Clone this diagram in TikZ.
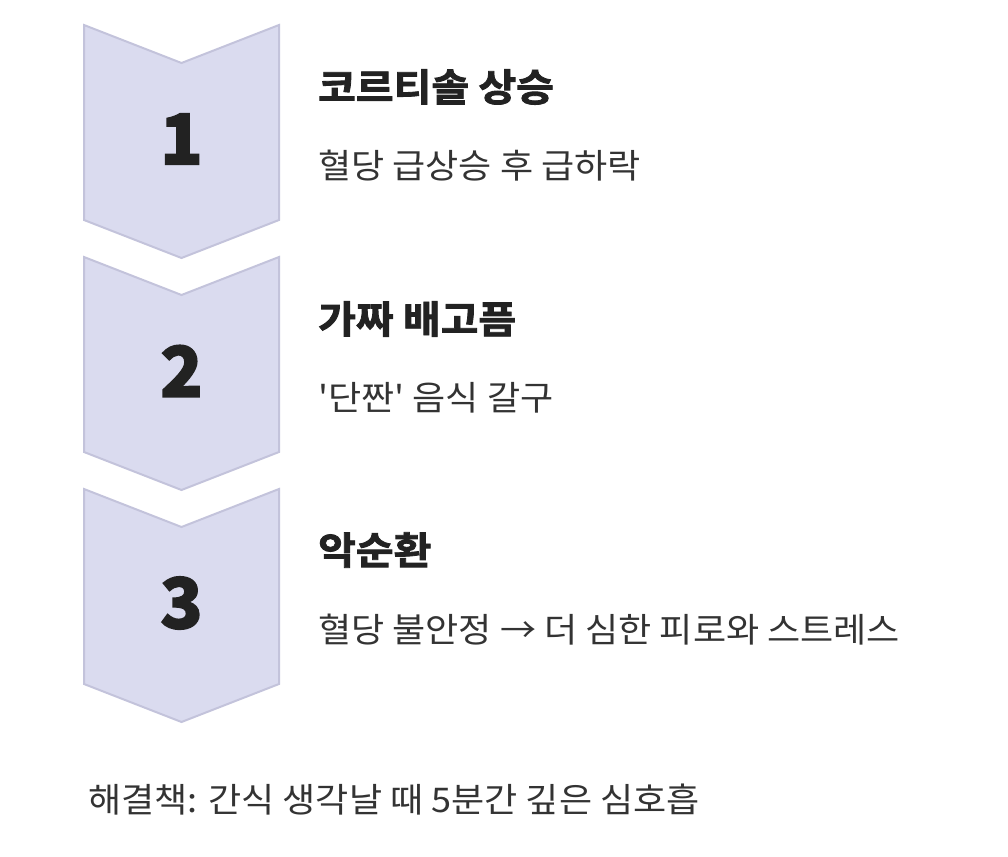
\documentclass[tikz,border=0pt]{standalone}
\usepackage{fontspec}
\setmainfont{Noto Sans CJK KR}[Ligatures=TeXOff, BoldFeatures={FakeBold=2}]
\newfontfamily\titlefont{Noto Sans CJK KR}[Ligatures=TeXOff, UprightFont=* Bold, UprightFeatures={FakeBold=2.2, FakeStretch=1.08}]
\newfontfamily\bodyfont{Noto Sans CJK KR}[Ligatures=TeXOff, FakeStretch=1.06]
\definecolor{chevfill}{HTML}{DADBEF}
\definecolor{chevline}{HTML}{C3C3DB}
\definecolor{txtdark}{HTML}{222222}
\definecolor{txtbody}{HTML}{333333}
\tikzset{
  chevron/.style={fill=chevfill, draw=chevline, line width=2pt, line join=miter},
  numlabel/.style={inner sep=0pt, text=txtdark, font=\fontsize{70}{70}\selectfont\bfseries},
  titlelabel/.style={anchor=west, inner sep=0pt, text=txtdark, font=\fontsize{38}{38}\titlefont},
  bodylabel/.style={anchor=west, inner sep=0pt, text=txtbody, font=\fontsize{34}{34}\bodyfont},
  footlabel/.style={anchor=west, inner sep=0pt, text=txtbody, font=\fontsize{34}{34}\bodyfont}
}
\begin{document}
\begin{tikzpicture}[x=1pt,y=-1pt]
\useasboundingbox (0,0) rectangle (1008,856);
\foreach \k/\n in {0/1,1/2,2/3}{
  \begin{scope}[yshift=-232*\k pt]
    \draw[chevron] (84,25) -- (181.5,63) -- (279,25) -- (279,220) -- (181.5,258) -- (84,220) -- cycle;
  \end{scope}
}
\node[numlabel] (n1) at (181.5,139) {1};
\node[numlabel] (n2) at (181.5,371) {2};
\node[numlabel] (n3) at (181.5,603) {3};
\node[titlelabel] (t1) at (318,87) {코르티솔 상승};
\node[bodylabel] (b1) at (318,166) {혈당 급상승 후 급하락};
\node[titlelabel] (t2) at (318,319) {가짜 배고픔};
\node[bodylabel] (b2) at (318,398) {'단짠' 음식 갈구};
\node[titlelabel] (t3) at (318,550) {악순환};
\node[bodylabel] (b3) at (318,630) {혈당 불안정 → 더 심한 피로와 스트레스};
\node[footlabel] (f) at (88,800) {해결책: 간식 생각날 때 5분간 깊은 심호흡};
\end{tikzpicture}
\end{document}
